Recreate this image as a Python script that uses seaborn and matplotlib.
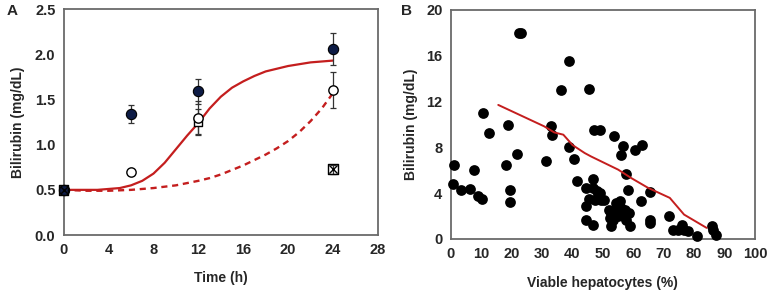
import numpy as np
import pandas as pd
import matplotlib
matplotlib.use("Agg")
import matplotlib.pyplot as plt
import seaborn as sns

# ---------------- Panel A data ----------------
t_filled = [0, 6, 12, 24]
y_filled = [0.50, 1.34, 1.59, 2.06]
e_filled = [0.0, 0.10, 0.14, 0.18]

t_open = [0, 6, 12, 24]
y_open = [0.50, 0.70, 1.30, 1.60]
e_open = [0.0, 0.0, 0.18, 0.20]

t_square = [12]
y_square = [1.25]
e_square = [0.14]

t_cross = [0, 24]
y_cross = [0.50, 0.73]
e_cross = [0.0, 0.05]

fit_t = list(range(0, 25))
fit_solid = [0.50, 0.50, 0.50, 0.50, 0.51, 0.52, 0.55, 0.60, 0.68, 0.80, 0.95,
             1.10, 1.24, 1.40, 1.53, 1.63, 1.70, 1.76, 1.81, 1.84, 1.87, 1.89,
             1.91, 1.92, 1.93]
dash_t = [0, 2, 4, 6, 8, 10, 12, 13, 14, 15, 16, 17, 18, 19, 20, 21, 22, 23, 24]
fit_dash = [0.50, 0.49, 0.49, 0.50, 0.52, 0.55, 0.60, 0.63, 0.67, 0.72, 0.77,
            0.83, 0.89, 0.96, 1.04, 1.14, 1.26, 1.40, 1.57]

# ---------------- Panel B data ----------------
viable = [22.3, 23.0, 38.8, 36.2, 45.5, 10.6, 12.7, 18.9, 32.9, 33.3, 47.2, 49.2,
          53.6, 38.7, 40.6, 31.2, 21.9, 18.1, 1.0, 7.6, 0.7, 3.5, 6.3, 9.0, 10.1,
          19.5, 19.5, 41.4, 56.5, 56.1, 60.5, 62.7, 57.5, 58.1, 65.4, 62.6, 44.4,
          46.6, 44.6, 44.6, 46.7, 45.6, 46.9, 48.1, 48.3, 49.4, 47.5, 48.9, 50.5,
          51.9, 52.2, 52.8, 53.3, 52.8, 54.4, 55.5, 56.1, 55.0, 56.9, 57.6, 58.9,
          58.7, 57.2, 53.9, 65.4, 65.6, 71.8, 72.9, 74.8, 76.1, 76.8, 78.1, 81.1,
          85.8, 86.3, 87.2]
bili = [18.0, 18.0, 15.55, 13.0, 13.1, 10.96, 9.24, 9.94, 9.83, 9.07, 9.53, 9.53,
        9.01, 8.0, 7.0, 6.77, 7.44, 6.42, 6.42, 6.05, 4.8, 4.3, 4.36, 3.78, 3.52,
        4.24, 3.2, 5.03, 8.08, 7.35, 7.79, 8.17, 5.67, 4.24, 4.07, 3.34, 4.45,
        5.23, 2.85, 1.69, 1.19, 3.49, 4.45, 4.16, 3.72, 3.43, 3.43, 4.0, 3.43,
        2.56, 1.83, 1.1, 1.69, 2.27, 3.14, 3.28, 2.7, 1.98, 1.98, 1.69, 1.1,
        2.27, 2.56, 2.41, 1.69, 1.4, 1.98, 0.81, 0.81, 1.25, 0.81, 0.73, 0.23,
        1.16, 0.76, 0.38]
trend_x = [15.6, 30.7, 34.0, 37.0, 40.0, 44.0, 46.1, 55.0, 59.4, 64.9, 72.0, 76.7, 84.1]
trend_y = [11.7, 9.83, 9.3, 9.1, 8.2, 7.5, 7.2, 6.05, 5.3, 4.45, 3.58, 2.12, 0.96]

sns.set_theme(style="white")
plt.rcParams['font.family'] = ['Liberation Sans', 'DejaVu Sans']
plt.rcParams['font.weight'] = 'bold'
plt.rcParams['axes.labelweight'] = 'bold'

RED = "#C41E1E"
NAVY = "#0D1B45"
SPINE = "#6a6a6a"

fig = plt.figure(figsize=(7.68, 2.92), dpi=100)
axA = fig.add_axes([0.083, 0.195, 0.409, 0.774])
axB = fig.add_axes([0.587, 0.182, 0.396, 0.784])

def style(ax):
    for s in ax.spines.values():
        s.set_color(SPINE)
        s.set_linewidth(1.3)
    ax.tick_params(direction='in', length=3, width=1, color=SPINE,
                   labelsize=10.5, pad=6)
    for lab in ax.get_xticklabels() + ax.get_yticklabels():
        lab.set_fontweight('bold')

# ---- Panel A ----
sns.lineplot(x=fit_t, y=fit_solid, ax=axA, color=RED, lw=1.6, zorder=2)
sns.lineplot(x=dash_t, y=fit_dash, ax=axA, color=RED, lw=1.7, zorder=2,
             linestyle=(0, (2.6, 2.0)))

ek = dict(fmt='none', ecolor='#333333', elinewidth=0.9, capsize=2.5, capthick=0.9, zorder=3)
axA.errorbar(t_filled, y_filled, yerr=e_filled, **ek)
axA.errorbar(t_open, y_open, yerr=e_open, **ek)
axA.errorbar(t_square, y_square, yerr=e_square, **ek)
axA.errorbar(t_cross, y_cross, yerr=e_cross, **ek)

sns.scatterplot(x=t_square, y=y_square, ax=axA, marker='s', s=40,
                facecolor='white', edgecolor='black', linewidth=1.0, zorder=4)
sns.scatterplot(x=t_open, y=y_open, ax=axA, marker='o', s=45,
                facecolor='white', edgecolor='black', linewidth=1.0, zorder=5)
sns.scatterplot(x=t_filled, y=y_filled, ax=axA, marker='o', s=55,
                color=NAVY, edgecolor='black', linewidth=0.8, zorder=6)
sns.scatterplot(x=t_cross, y=y_cross, ax=axA, marker='s', s=45,
                facecolor='none', edgecolor='black', linewidth=1.0, zorder=7)
sns.scatterplot(x=t_cross, y=y_cross, ax=axA, marker='x', s=35,
                color='black', linewidth=1.0, zorder=8)

axA.set_xlim(0, 28)
axA.set_ylim(0, 2.5)
axA.set_xticks(range(0, 29, 4))
axA.set_yticks(np.arange(0, 2.51, 0.5))
axA.set_yticklabels([f"{v:.1f}" for v in np.arange(0, 2.51, 0.5)])
axA.set_xlabel("Time (h)", fontsize=10, fontweight='bold', labelpad=10)
axA.set_ylabel("Bilirubin (mg/dL)", fontsize=10, fontweight='bold', labelpad=7)
style(axA)
for c in axA.collections:
    c.set_clip_on(False)

# ---- Panel B ----
dfB = pd.DataFrame({"viable": viable, "bili": bili})
sns.scatterplot(data=dfB, x="viable", y="bili", ax=axB, color='black', s=60,
                edgecolor='black', linewidth=0, zorder=3)
sns.lineplot(x=trend_x, y=trend_y, ax=axB, color=RED, lw=1.4, zorder=4, sort=False)
axB.set_xlim(0, 100)
axB.set_ylim(0, 20)
axB.set_xticks(range(0, 101, 10))
axB.set_yticks(range(0, 21, 4))
axB.set_xlabel("Viable hepatocytes (%)", fontsize=10, fontweight='bold', labelpad=11)
axB.set_ylabel("Bilirubin (mg/dL)", fontsize=10, fontweight='bold', labelpad=6)
style(axB)
for c in axB.collections:
    c.set_clip_on(False)

fig.text(0.008, 0.962, "A", fontsize=11, fontweight='bold', ha='left', va='center')
fig.text(0.522, 0.962, "B", fontsize=11, fontweight='bold', ha='left', va='center')

fig.savefig("out.png", dpi=100)
